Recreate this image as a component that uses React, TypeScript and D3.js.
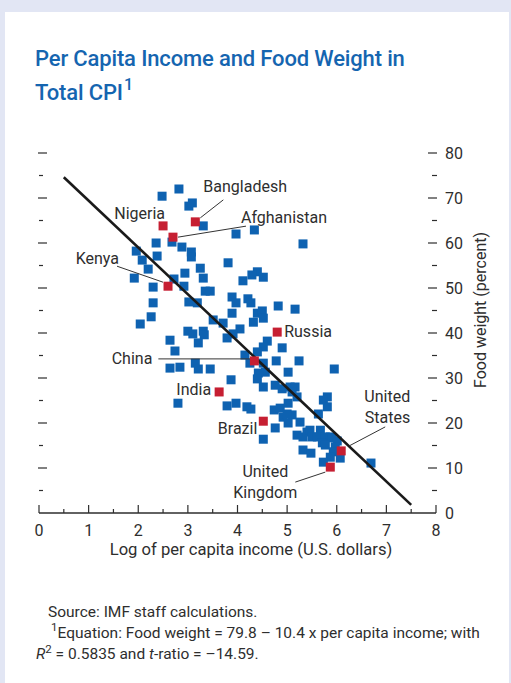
import React from "react";
import * as d3 from "d3";

// Blue points: log of per capita income (x) and food weight percent (y)
const incomeLog = [
  2.48, 2.82, 3.02, 3.09, 3.31, 3.97, 4.34, 5.32, 2.36, 2.68, 2.88, 3.07, 3.07, 1.96, 2.08, 2.38,
  2.2, 1.92, 3.25, 3.81, 2.94, 2.72, 2.92, 3.31, 3.35, 2.3, 4.4, 4.29, 4.11, 4.52, 3.89, 4.21,
  3.45, 2.3, 3.02, 3.19, 3.97, 4.27, 3.89, 4.4, 4.5, 4.52, 4.32, 4.82, 5.16, 2.26, 2.04, 3.51,
  3.71, 4.05, 3.91, 3.79, 3.0, 3.1, 3.31, 3.33, 3.21, 2.64, 2.74, 4.6, 4.52, 4.9, 4.4, 4.15,
  2.64, 2.84, 3.15, 3.21, 3.45, 4.25, 4.52, 4.78, 5.24, 5.95, 4.42, 4.56, 5.02, 4.4, 3.87, 4.52,
  4.76, 4.9, 5.06, 5.16, 5.1, 5.2, 5.02, 5.81, 5.73, 5.81, 5.63, 2.8, 3.79, 3.97, 4.19, 4.27,
  4.74, 4.86, 4.92, 5.1, 5.0, 5.02, 5.26, 4.76, 4.52, 5.2, 5.32, 5.4, 5.46, 5.5, 5.67, 5.61,
  5.77, 5.87, 5.91, 6.01, 5.71, 5.77, 5.97, 5.32, 5.48, 5.93, 5.87, 5.73, 6.07, 6.69,
];
const foodWeight = [
  70.4, 72.0, 68.2, 68.9, 63.8, 62.0, 62.9, 59.8, 60.0, 60.2, 59.1, 58.0, 56.9, 58.2, 56.2, 57.1,
  54.2, 52.2, 54.4, 55.6, 53.3, 52.0, 50.4, 52.2, 49.3, 50.2, 53.6, 52.9, 51.6, 52.4, 48.0, 47.6,
  49.3, 46.7, 46.9, 46.7, 46.7, 46.7, 44.4, 44.4, 44.9, 43.3, 42.4, 46.0, 45.3, 43.6, 42.0, 42.9,
  42.2, 40.9, 39.8, 38.9, 40.4, 39.8, 40.4, 39.6, 37.8, 38.4, 36.0, 38.2, 36.9, 36.7, 35.8, 35.1,
  32.2, 32.4, 33.3, 32.0, 32.0, 33.3, 33.3, 33.8, 33.8, 32.0, 31.1, 31.3, 31.3, 29.8, 29.6, 28.0,
  28.4, 27.6, 28.0, 28.0, 26.9, 25.8, 24.4, 25.8, 25.1, 23.6, 22.0, 24.4, 23.8, 24.4, 23.6, 23.1,
  22.9, 23.3, 21.3, 21.8, 22.0, 20.0, 20.2, 18.9, 16.4, 17.3, 16.9, 18.0, 18.4, 16.9, 18.4, 16.9,
  16.9, 16.9, 16.7, 16.0, 15.6, 15.1, 14.7, 14.0, 13.3, 13.6, 12.4, 11.3, 12.2, 11.1,
];

// Highlighted countries
const countries = ["Bangladesh", "Nigeria", "Afghanistan", "Kenya", "Russia", "China", "India", "Brazil", "United States", "United Kingdom"];
const countryIncome = [3.15, 2.5, 2.7, 2.6, 4.8, 4.34, 3.63, 4.52, 6.09, 5.87];
const countryFood = [64.7, 63.8, 61.3, 50.4, 40.2, 33.8, 26.9, 20.4, 13.8, 10.2];

const xTicks = [0, 1, 2, 3, 4, 5, 6, 7, 8];
const yTicks = [0, 10, 20, 30, 40, 50, 60, 70, 80];

// Regression: Food weight = 79.8 - 10.4 x
const intercept = 79.8;
const slope = -10.4;
const lineRange = [0.5, 7.5];

// Label layout (pixel offsets from each country's marker)
type Ann = { lines: string[]; dx: number; dy: number; anchor: string; leader?: [number, number, number, number] };
const annotations: Record<string, Ann> = {
  Bangladesh: { lines: ["Bangladesh"], dx: 8, dy: -30, anchor: "start", leader: [5, -4, 28, -22] },
  Nigeria: { lines: ["Nigeria"], dx: 2, dy: -7, anchor: "end" },
  Afghanistan: { lines: ["Afghanistan"], dx: 68, dy: -14, anchor: "start", leader: [5, 0, 73, -11] },
  Kenya: { lines: ["Kenya"], dx: -49, dy: -22, anchor: "end", leader: [-51, -20, -5, -4] },
  Russia: { lines: ["Russia"], dx: 7, dy: 5, anchor: "start" },
  China: { lines: ["China"], dx: -102, dy: 3, anchor: "end", leader: [-96, -2, -4, -2] },
  India: { lines: ["India"], dx: -8, dy: 3, anchor: "end" },
  Brazil: { lines: ["Brazil"], dx: -6, dy: 13, anchor: "end" },
  "United States": { lines: ["United", "States"], dx: 69, dy: -49, anchor: "end", leader: [8, -5, 44, -24] },
  "United Kingdom": { lines: ["United", "Kingdom"], dx: -65, dy: 10, anchor: "middle", leader: [-5, 5, -35, 15] },
};

const FONT = "Roboto, 'Liberation Sans', Arial, sans-serif";
const TEXT = "#2e2e2e";
const BLUE = "#0e62b1";
const RED = "#c61f32";

export default function App() {
  const x = d3.scaleLinear().domain([0, 8]).range([39, 436]);
  const y = d3.scaleLinear().domain([0, 80]).range([513, 153]);
  const S = 9;
  const minorY = d3.range(5, 81, 5);
  const minorX = d3.range(0.5, 8, 1);

  return (
    <svg width={511} height={683} style={{ position: "absolute", left: 0, top: 0 }} fontFamily={FONT}>
      <rect x={0} y={0} width={511} height={683} fill="#e2e6f4" />
      <rect x={5} y={12} width={504} height={671} fill="#ffffff" />

      {/* Title */}
      <text x={35} y={66} fill="#1565b0" fontSize={22} fontWeight={500} letterSpacing={-0.15}>
        Per Capita Income and Food Weight in
      </text>
      <text x={35} y={100} fill="#1565b0" fontSize={22} fontWeight={500} letterSpacing={-0.15}>
        Total CPI
        <tspan fontSize={16} dy={-10} dx={1}>1</tspan>
      </text>

      {/* Left y ticks */}
      {minorY.map((v) => {
        const major = v % 10 === 0;
        return (
          <line key={"l" + v} x1={major ? 38 : 39} x2={major ? 47 : 43} y1={y(v)} y2={y(v)} stroke={TEXT} strokeWidth={1.2} />
        );
      })}
      {/* Right y ticks */}
      {minorY.map((v) => {
        const major = v % 10 === 0;
        return (
          <line key={"r" + v} x1={major ? 428 : 432} x2={437} y1={y(v)} y2={y(v)} stroke={TEXT} strokeWidth={1.2} />
        );
      })}
      {yTicks.map((v) => (
        <text key={"yl" + v} x={445} y={y(v)} dy="0.36em" fontSize={16} fill={TEXT}>
          {v}
        </text>
      ))}
      <text
        transform={`translate(486,310) rotate(-90)`}
        textAnchor="middle"
        fontSize={16}
        fill={TEXT}
      >
        Food weight (percent)
      </text>

      {/* X axis */}
      <line x1={x(0)} x2={x(8)} y1={y(0)} y2={y(0)} stroke={TEXT} strokeWidth={1.5} />
      {xTicks.map((v) => (
        <line key={"xt" + v} x1={x(v)} x2={x(v)} y1={y(0)} y2={y(0) - 8} stroke={TEXT} strokeWidth={1.2} />
      ))}
      {minorX.map((v) => (
        <line key={"xm" + v} x1={x(v)} x2={x(v)} y1={y(0)} y2={y(0) - 4} stroke={TEXT} strokeWidth={1.2} />
      ))}
      {xTicks.map((v) => (
        <text key={"xl" + v} x={x(v)} y={536} textAnchor="middle" fontSize={16} fill={TEXT}>
          {v}
        </text>
      ))}
      <text x={251} y={555} textAnchor="middle" fontSize={16.6} fill={TEXT}>
        Log of per capita income (U.S. dollars)
      </text>

      {/* Blue points */}
      {incomeLog.map((v, i) => (
        <rect key={"p" + i} x={x(v) - S / 2} y={y(foodWeight[i]) - S / 2} width={S} height={S} fill={BLUE} />
      ))}

      {/* Regression line */}
      <line
        x1={x(lineRange[0])}
        y1={y(intercept + slope * lineRange[0])}
        x2={x(lineRange[1])}
        y2={y(intercept + slope * lineRange[1])}
        stroke="#1a1a1a"
        strokeWidth={2.6}
      />

      {/* Highlighted countries */}
      {countries.map((c, i) => {
        const px = x(countryIncome[i]);
        const py = y(countryFood[i]);
        const a = annotations[c];
        return (
          <g key={c}>
            {a.leader && (
              <line
                x1={px + a.leader[0]}
                y1={py + a.leader[1]}
                x2={px + a.leader[2]}
                y2={py + a.leader[3]}
                stroke="#333"
                strokeWidth={1}
              />
            )}
            <rect x={px - S / 2} y={py - S / 2} width={S} height={S} fill={RED} />
            <text x={px + a.dx} y={py + a.dy} textAnchor={a.anchor} fontSize={16} fill={TEXT}>
              {a.lines.map((l, j) => (
                <tspan key={j} x={px + a.dx} dy={j === 0 ? 0 : 21}>
                  {l}
                </tspan>
              ))}
            </text>
          </g>
        );
      })}

      {/* Footnotes */}
      <text x={48} y={617} fontSize={15.5} fill={TEXT}>
        Source: IMF staff calculations.
      </text>
      <text x={51} y={638} fontSize={15.5} fill={TEXT}>
        <tspan fontSize={11.5} dy={-7}>1</tspan>
        <tspan dy={7}>Equation: Food weight = 79.8 – 10.4 x per capita income; with</tspan>
      </text>
      <text x={36} y={659} fontSize={15.5} fill={TEXT}>
        <tspan fontStyle="italic">R</tspan>
        <tspan fontSize={11.5} dy={-6}>2</tspan>
        <tspan dy={6}> = 0.5835 and </tspan>
        <tspan fontStyle="italic">t</tspan>
        <tspan>-ratio = –14.59.</tspan>
      </text>
    </svg>
  );
}
